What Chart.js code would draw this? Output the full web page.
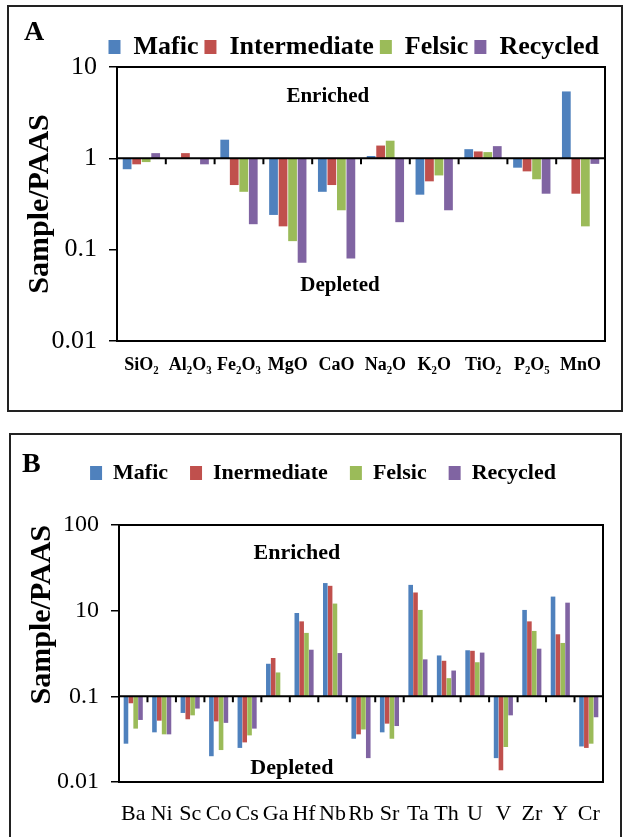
<!DOCTYPE html>
<html>
<head>
<meta charset="utf-8">
<script src="https://cdn.jsdelivr.net/npm/chart.js@4"></script>
<style>
  body { margin: 0; background: #fff; }
  .panel { position: absolute; border: 2px solid #222; box-sizing: border-box; background: #fff; overflow: hidden; }
  .panel canvas { position: absolute; left: 0; top: 0; }
  .lab { position: absolute; font: bold 28px 'Liberation Serif', 'Times New Roman', serif; color: #000; z-index: 2; }
</style>
</head>
<body>
<div class="panel" style="left:7px;top:5px;width:616px;height:407px">
  <div class="lab" style="left:15px;top:8px">A</div>
  <canvas id="chartA" width="612" height="403"></canvas>
</div>
<div class="panel" style="left:9px;top:433px;width:613px;height:408px">
  <div class="lab" style="left:11px;top:12px">B</div>
  <canvas id="chartB" width="609" height="404"></canvas>
</div>
<script>
// Panel A: major oxides normalised to PAAS
const categoriesA = ['SiO₂', 'Al₂O₃', 'Fe₂O₃', 'MgO', 'CaO', 'Na₂O', 'K₂O', 'TiO₂', 'P₂O₅', 'MnO'];
const maficA = [0.76, null, 1.6, 0.24, 0.43, 1.06, 0.40, 1.26, 0.79, 5.4];
const intermediateA = [0.86, 1.14, 0.51, 0.18, 0.51, 1.38, 0.56, 1.19, 0.72, 0.41];
const felsicA = [0.91, null, 0.43, 0.124, 0.27, 1.56, 0.65, 1.17, 0.59, 0.18];
const recycledA = [1.14, 0.86, 0.19, 0.072, 0.08, 0.20, 0.27, 1.36, 0.41, 0.87];
const tickValuesA = [0.01, 0.1, 1, 10];
const tickLabelsA = ['0.01', '0.1', '1', '10'];

// Panel B: trace elements normalised to PAAS (axis labels as printed in the figure)
const categoriesB = ['Ba', 'Ni', 'Sc', 'Co', 'Cs', 'Ga', 'Hf', 'Nb', 'Rb', 'Sr', 'Ta', 'Th', 'U', 'V', 'Zr', 'Y', 'Cr'];
const maficB = [0.28, 0.38, 0.64, 0.20, 0.25, 2.4, 9.4, 21, 0.32, 0.38, 20, 3.0, 3.45, 0.19, 10.2, 14.6, 0.26];
const intermediateB = [0.83, 0.52, 0.54, 0.51, 0.29, 2.8, 7.5, 19.5, 0.36, 0.48, 16.3, 2.6, 3.4, 0.137, 7.5, 5.3, 0.25];
const felsicB = [0.42, 0.36, 0.60, 0.236, 0.35, 1.9, 5.5, 12.1, 0.41, 0.32, 10.2, 1.63, 2.5, 0.256, 5.8, 4.2, 0.28];
const recycledB = [0.53, 0.36, 0.72, 0.49, 0.42, null, 3.5, 3.2, 0.19, 0.45, 2.7, 2.0, 3.24, 0.60, 3.6, 12.4, 0.57];
const tickValuesB = [0.1, 1, 10, 100];
const tickLabelsB = ['0.01', '0.1', '10', '100'];

const colors = ['#4F81BD', '#C0504D', '#9BBB59', '#8064A2'];
const SERIF = "'Liberation Serif', 'Times New Roman', serif";

// draws the plot frame, the baseline with its category ticks and the Enriched/Depleted notes
const framePlugin = {
  id: 'frame',
  afterDatasetsDraw(chart, args, opts) {
    const { ctx, chartArea: a, scales: { x, y } } = chart;
    ctx.save();
    ctx.strokeStyle = '#000';
    ctx.lineWidth = 2;
    ctx.strokeRect(a.left, a.top, a.width, a.height);
    const by = y.getPixelForValue(opts.base);
    ctx.beginPath();
    ctx.moveTo(a.left, by);
    ctx.lineTo(a.right, by);
    for (let i = 1; i < x.ticks.length; i++) {
      const px = (x.getPixelForTick(i - 1) + x.getPixelForTick(i)) / 2;
      ctx.moveTo(px, by);
      ctx.lineTo(px, by + 6);
    }
    ctx.stroke();
    ctx.fillStyle = '#000';
    ctx.font = opts.noteFont;
    ctx.textAlign = 'center';
    ctx.textBaseline = 'middle';
    opts.notes.forEach(n => ctx.fillText(n.text, x.getPixelForValue(n.at), y.getPixelForValue(n.value)));
    ctx.restore();
  }
};

// extra room under the legend and a sideways nudge of the legend row
const legendTweak = {
  id: 'legendTweak',
  beforeLayout(chart, args, opts) {
    const legend = chart.legend;
    if (legend && !legend._tweaked) {
      const fit = legend.fit;
      legend.fit = function () { fit.call(this); this.height += opts.extra; };
      legend._tweaked = true;
    }
  },
  afterLayout(chart, args, opts) {
    chart.legend.left += opts.shift;
    chart.legend.right += opts.shift;
  }
};

function makeChart(id, o) {
  const names = o.names;
  const datasets = o.series.map((vals, i) => ({
    label: names[i],
    data: vals.map(v => v == null ? null : [o.base, v]),
    backgroundColor: colors[i],
    borderColor: colors[i],
    borderWidth: 0,
    barPercentage: o.barPct,
    categoryPercentage: o.catPct
  }));
  return new Chart(document.getElementById(id), {
    type: 'bar',
    data: { labels: o.categories, datasets },
    plugins: [framePlugin, legendTweak],
    options: {
      responsive: false,
      animation: false,
      layout: { padding: o.padding },
      plugins: {
        tooltip: { enabled: false },
        legend: {
          position: 'top',
          align: o.legendAlign,
          labels: {
            color: '#000',
            boxWidth: 12,
            boxHeight: 14,
            padding: o.legendPad,
            font: { family: SERIF, size: o.legendSize, weight: 'bold' }
          }
        },
        legendTweak: { extra: o.legendExtra, shift: o.legendShift },
        frame: { base: o.base, notes: o.notes, noteFont: o.noteFont }
      },
      scales: {
        x: {
          type: 'category',
          grid: { display: false, drawTicks: false },
          border: { display: false },
          ticks: {
            color: '#000', autoSkip: false, maxRotation: 0, padding: o.xPad,
            font: { family: SERIF, size: o.xSize, weight: o.xWeight }
          },
          afterFit: s => { s.height = o.xHeight; }
        },
        y: {
          type: 'logarithmic',
          min: o.tickValues[0],
          max: o.tickValues[o.tickValues.length - 1],
          afterBuildTicks: s => { s.ticks = o.tickValues.map(v => ({ value: v })); },
          grid: { drawOnChartArea: false, drawTicks: true, tickLength: 8, color: '#000', lineWidth: 1.5 },
          border: { display: false },
          ticks: {
            color: '#000', padding: 12,
            font: { family: SERIF, size: o.ySize },
            callback: v => o.tickLabels[o.tickValues.indexOf(v)]
          },
          title: {
            display: true, text: 'Sample/PAAS', color: '#000', align: o.titleAlign,
            padding: { top: 13, bottom: 0 },
            font: { family: SERIF, size: 30, weight: 'bold' }
          },
          afterFit: s => { s.width = o.yWidth; }
        }
      }
    }
  });
}

makeChart('chartA', {
  categories: categoriesA,
  names: ['Mafic', 'Intermediate', 'Felsic', 'Recycled'],
  series: [maficA, intermediateA, felsicA, recycledA],
  base: 1,
  tickValues: tickValuesA,
  tickLabels: tickLabelsA,
  barPct: 0.92, catPct: 0.78,
  padding: { top: 21, right: 16, left: 0, bottom: 0 },
  legendAlign: 'end', legendPad: 6, legendSize: 26, legendExtra: -3, legendShift: 0,
  xPad: 14, xSize: 18, xWeight: 'bold', xHeight: 69,
  ySize: 26, yWidth: 108, titleAlign: 'center',
  notes: [{ text: 'Enriched', at: 3.82, value: 4.7 }, { text: 'Depleted', at: 4.07, value: 0.04 }],
  noteFont: "bold 21px " + SERIF
});

makeChart('chartB', {
  categories: categoriesB,
  names: ['Mafic', 'Inermediate', 'Felsic', 'Recycled'],
  series: [maficB, intermediateB, felsicB, recycledB],
  base: 1,
  tickValues: tickValuesB,
  tickLabels: tickLabelsB,
  barPct: 0.95, catPct: 0.68,
  padding: { top: 5, right: 17, left: 0, bottom: 0 },
  legendAlign: 'center', legendPad: 22, legendSize: 22, legendExtra: 31, legendShift: 16,
  xPad: 19, xSize: 22, xWeight: 'normal', xHeight: 57,
  ySize: 24, yWidth: 108, titleAlign: 'end',
  notes: [{ text: 'Enriched', at: 5.75, value: 47 }, { text: 'Depleted', at: 5.57, value: 0.144 }],
  noteFont: "bold 22px " + SERIF
});
</script>
</body>
</html>
